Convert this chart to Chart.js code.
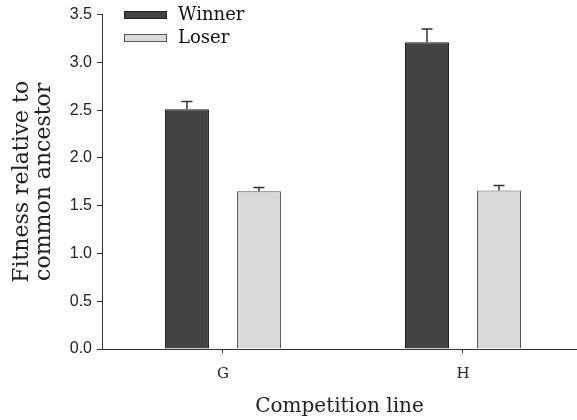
<!DOCTYPE html>
<html>
<head>
<meta charset="utf-8">
<script src="https://cdn.jsdelivr.net/npm/chart.js@4/dist/chart.umd.min.js"></script>
<style>
  html, body { margin: 0; padding: 0; background: #fff; }
  canvas { display: block; }
</style>
</head>
<body>
<canvas id="c" width="577" height="420"></canvas>
<script>
// Competition lines and mean fitness (relative to the common ancestor)
const lines = ['G', 'H'];
const winner = [2.51, 3.21];
const winnerErr = [0.08, 0.14];
const loser = [1.65, 1.66];
const loserErr = [0.04, 0.05];
const seriesNames = ['Winner', 'Loser'];
const yTickValues = [0, 0.5, 1.0, 1.5, 2.0, 2.5, 3.0, 3.5];

const SERIF = '"DejaVu Serif", "Liberation Serif", serif';
const SANS = '"Liberation Sans", Arial, sans-serif';
const errors = [winnerErr, loserErr];

// one-sided (upper) error bars drawn on top of each bar
const errorBars = {
  id: 'errorBars',
  afterDatasetsDraw(chart) {
    const ctx = chart.ctx;
    const y = chart.scales.y;
    ctx.save();
    ctx.strokeStyle = '#333';
    ctx.lineWidth = 1.5;
    chart.data.datasets.forEach((ds, di) => {
      const meta = chart.getDatasetMeta(di);
      meta.data.forEach((bar, i) => {
        const v = ds.data[i].y;
        const top = y.getPixelForValue(v + errors[di][i]);
        ctx.beginPath();
        ctx.moveTo(bar.x, bar.y);
        ctx.lineTo(bar.x, top);
        ctx.moveTo(bar.x - 5.5, top);
        ctx.lineTo(bar.x + 5.5, top);
        ctx.stroke();
      });
    });
    ctx.restore();
  }
};

// legend in the upper-left corner of the plot
const cornerLegend = {
  id: 'cornerLegend',
  afterDraw(chart) {
    const ctx = chart.ctx;
    const a = chart.chartArea;
    ctx.save();
    ctx.font = '18px ' + SERIF;
    ctx.textBaseline = 'middle';
    chart.data.datasets.forEach((ds, i) => {
      const bx = a.left + 22, by = 11 + i * 23;
      ctx.fillStyle = ds.backgroundColor;
      ctx.fillRect(bx, by, 43, 8);
      ctx.strokeStyle = ds.borderColor;
      ctx.lineWidth = 1;
      ctx.strokeRect(bx + 0.5, by + 0.5, 42, 7);
      ctx.fillStyle = '#111';
      ctx.fillText(ds.label, bx + 54, by + 4);
    });
    ctx.restore();
  }
};

new Chart(document.getElementById('c'), {
  type: 'bar',
  data: {
    datasets: [
      {
        label: seriesNames[0],
        data: winner.map((v, i) => ({ x: i, y: v })),
        backgroundColor: '#434343',
        borderColor: '#1e1e1e',
        borderWidth: 1,
        categoryPercentage: 0.6,
        barPercentage: 0.611
      },
      {
        label: seriesNames[1],
        data: loser.map((v, i) => ({ x: i, y: v })),
        backgroundColor: '#d9d9d9',
        borderColor: '#555',
        borderWidth: 1,
        categoryPercentage: 0.6,
        barPercentage: 0.611
      }
    ]
  },
  options: {
    responsive: false,
    devicePixelRatio: 1,
    animation: false,
    layout: { padding: { top: 12, right: 0, bottom: 0, left: 0 } },
    plugins: { legend: { display: false }, tooltip: { enabled: false } },
    scales: {
      x: {
        type: 'linear',
        offset: false,
        min: -0.504,
        max: 1.475,
        afterBuildTicks(scale) { scale.ticks = lines.map((_, i) => ({ value: i })); },
        afterFit(scale) { scale.height = 71; },
        grid: { offset: false, drawOnChartArea: false, drawTicks: true, tickLength: 4, color: '#333' },
        border: { display: true, color: '#333', width: 1 },
        ticks: {
          padding: 12,
          color: '#222',
          font: { family: SERIF, size: 15 },
          maxRotation: 0,
          callback: (v) => lines[v]
        },
        title: {
          display: true,
          text: 'Competition line',
          color: '#222',
          font: { family: SERIF, size: 20 },
          padding: { top: 0, bottom: 1 }
        }
      },
      y: {
        min: 0,
        max: 3.5,
        afterBuildTicks(scale) { scale.ticks = yTickValues.map(v => ({ value: v })); },
        afterFit(scale) { scale.width = 102; },
        grid: { drawOnChartArea: false, drawTicks: true, tickLength: 5, color: '#333' },
        border: { display: true, color: '#333', width: 1 },
        ticks: {
          padding: 5,
          color: '#222',
          font: { family: SANS, size: 16 },
          callback: (v) => Number(v).toFixed(1)
        },
        title: {
          display: true,
          text: ['Fitness relative to', 'common ancestor'],
          color: '#222',
          font: { family: SERIF, size: 22, lineHeight: 1.0 },
          padding: { top: 11, bottom: 0 }
        }
      }
    }
  },
  plugins: [errorBars, cornerLegend]
});
</script>
</body>
</html>
